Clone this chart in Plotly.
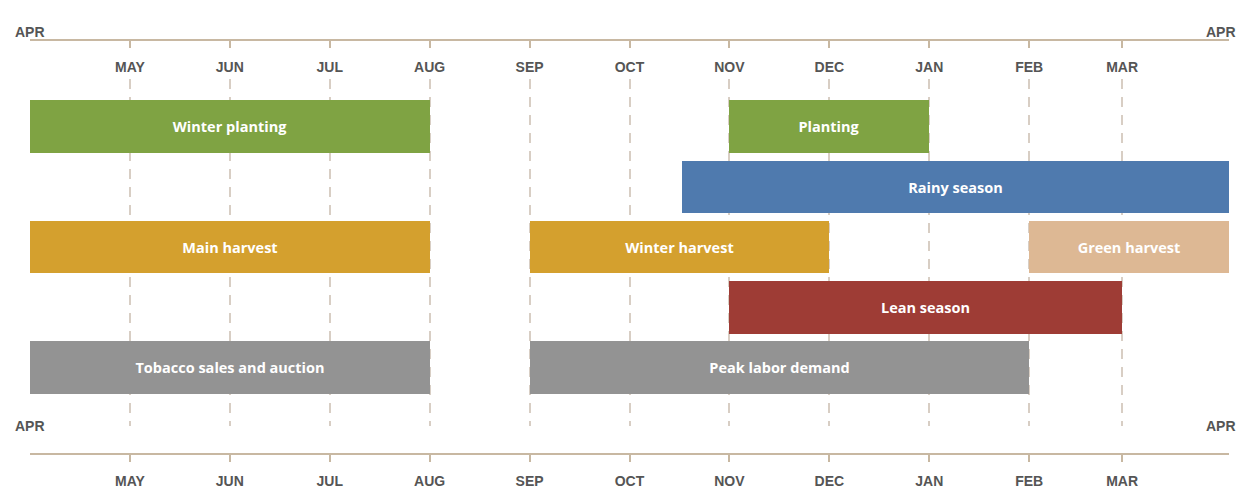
import plotly.graph_objects as go

# months on a 0..12 scale from April to April
month_labels = ['MAY', 'JUN', 'JUL', 'AUG', 'SEP', 'OCT', 'NOV', 'DEC', 'JAN', 'FEB', 'MAR']
month_pos = [1, 2, 3, 4, 5, 6, 7, 8, 9, 10, 10.93]

# activities: label, row, start, end (in month units)
activities = ['Winter planting', 'Planting', 'Rainy season', 'Main harvest', 'Winter harvest',
              'Green harvest', 'Lean season', 'Tobacco sales and auction', 'Peak labor demand']
rows = [0, 0, 1, 2, 2, 2, 3, 4, 4]
starts = [0, 7, 6.53, 0, 5, 10, 7, 0, 5]
ends = [4, 9, 12, 4, 8, 12, 10.93, 4, 10]

COLORS = ['#7fa343', '#7fa343', '#4f7aae', '#d4a02e', '#d4a02e',
          '#ddb894', '#9e3c35', '#939393', '#939393']

AXIS_COL = '#c8b8a2'
GRID_COL = '#d8cec4'
TICK_FONT = dict(family='Arial, sans-serif', size=14, color='#555555', weight='bold')

# page body has an 8px margin, so the figure is 8px smaller than the window
W, H = 1238, 481

fig = go.Figure()
fig.add_trace(go.Bar(
    y=rows, base=starts, x=[e - s for s, e in zip(starts, ends)],
    orientation='h', width=0.87,
    marker=dict(color=COLORS, line=dict(width=0)),
    text=activities, textposition='inside', insidetextanchor='middle',
    textfont=dict(family='Open Sans, sans-serif', size=14.5, color='white', weight='bold'),
    constraintext='none', hoverinfo='skip', showlegend=False
))
# keeps the second (bottom) month axis alive
fig.add_trace(go.Scatter(
    x=month_pos, y=[0] * len(month_pos), xaxis='x2', mode='markers',
    marker=dict(opacity=0), hoverinfo='skip', showlegend=False
))

axis_common = dict(
    range=[0, 12], tickvals=month_pos, ticktext=month_labels,
    showline=True, linecolor=AXIS_COL, linewidth=2,
    ticks='outside', ticklen=7, tickwidth=2, tickcolor=AXIS_COL,
    tickfont=TICK_FONT, ticklabelstandoff=7, zeroline=False,
    anchor='free', fixedrange=True
)

fig.update_layout(
    width=W, height=H,
    paper_bgcolor='white', plot_bgcolor='white',
    margin=dict(l=22, r=17, t=0, b=0),
    xaxis=dict(**axis_common, position=1 - 32 / H,
               showgrid=True, gridcolor=GRID_COL, gridwidth=1.5, griddash='10px,8px'),
    xaxis2=dict(**axis_common, position=1 - 450 / H, overlaying='x', matches='x',
                showgrid=False),
    yaxis=dict(domain=[1 - 422 / H, 1 - 72 / H], range=[4.971, -0.790],
               visible=False, fixedrange=True),
    bargap=0,
)

for yp in [1 - 14 / H, 1 - 432 / H]:
    fig.add_annotation(x=0, xref='x', y=yp, yref='paper', text='APR',
                       showarrow=False, font=TICK_FONT)
    fig.add_annotation(x=12, xref='x', y=yp, yref='paper', text='APR',
                       xanchor='right', xshift=9,
                       showarrow=False, font=TICK_FONT)

fig.write_html("out.html")
